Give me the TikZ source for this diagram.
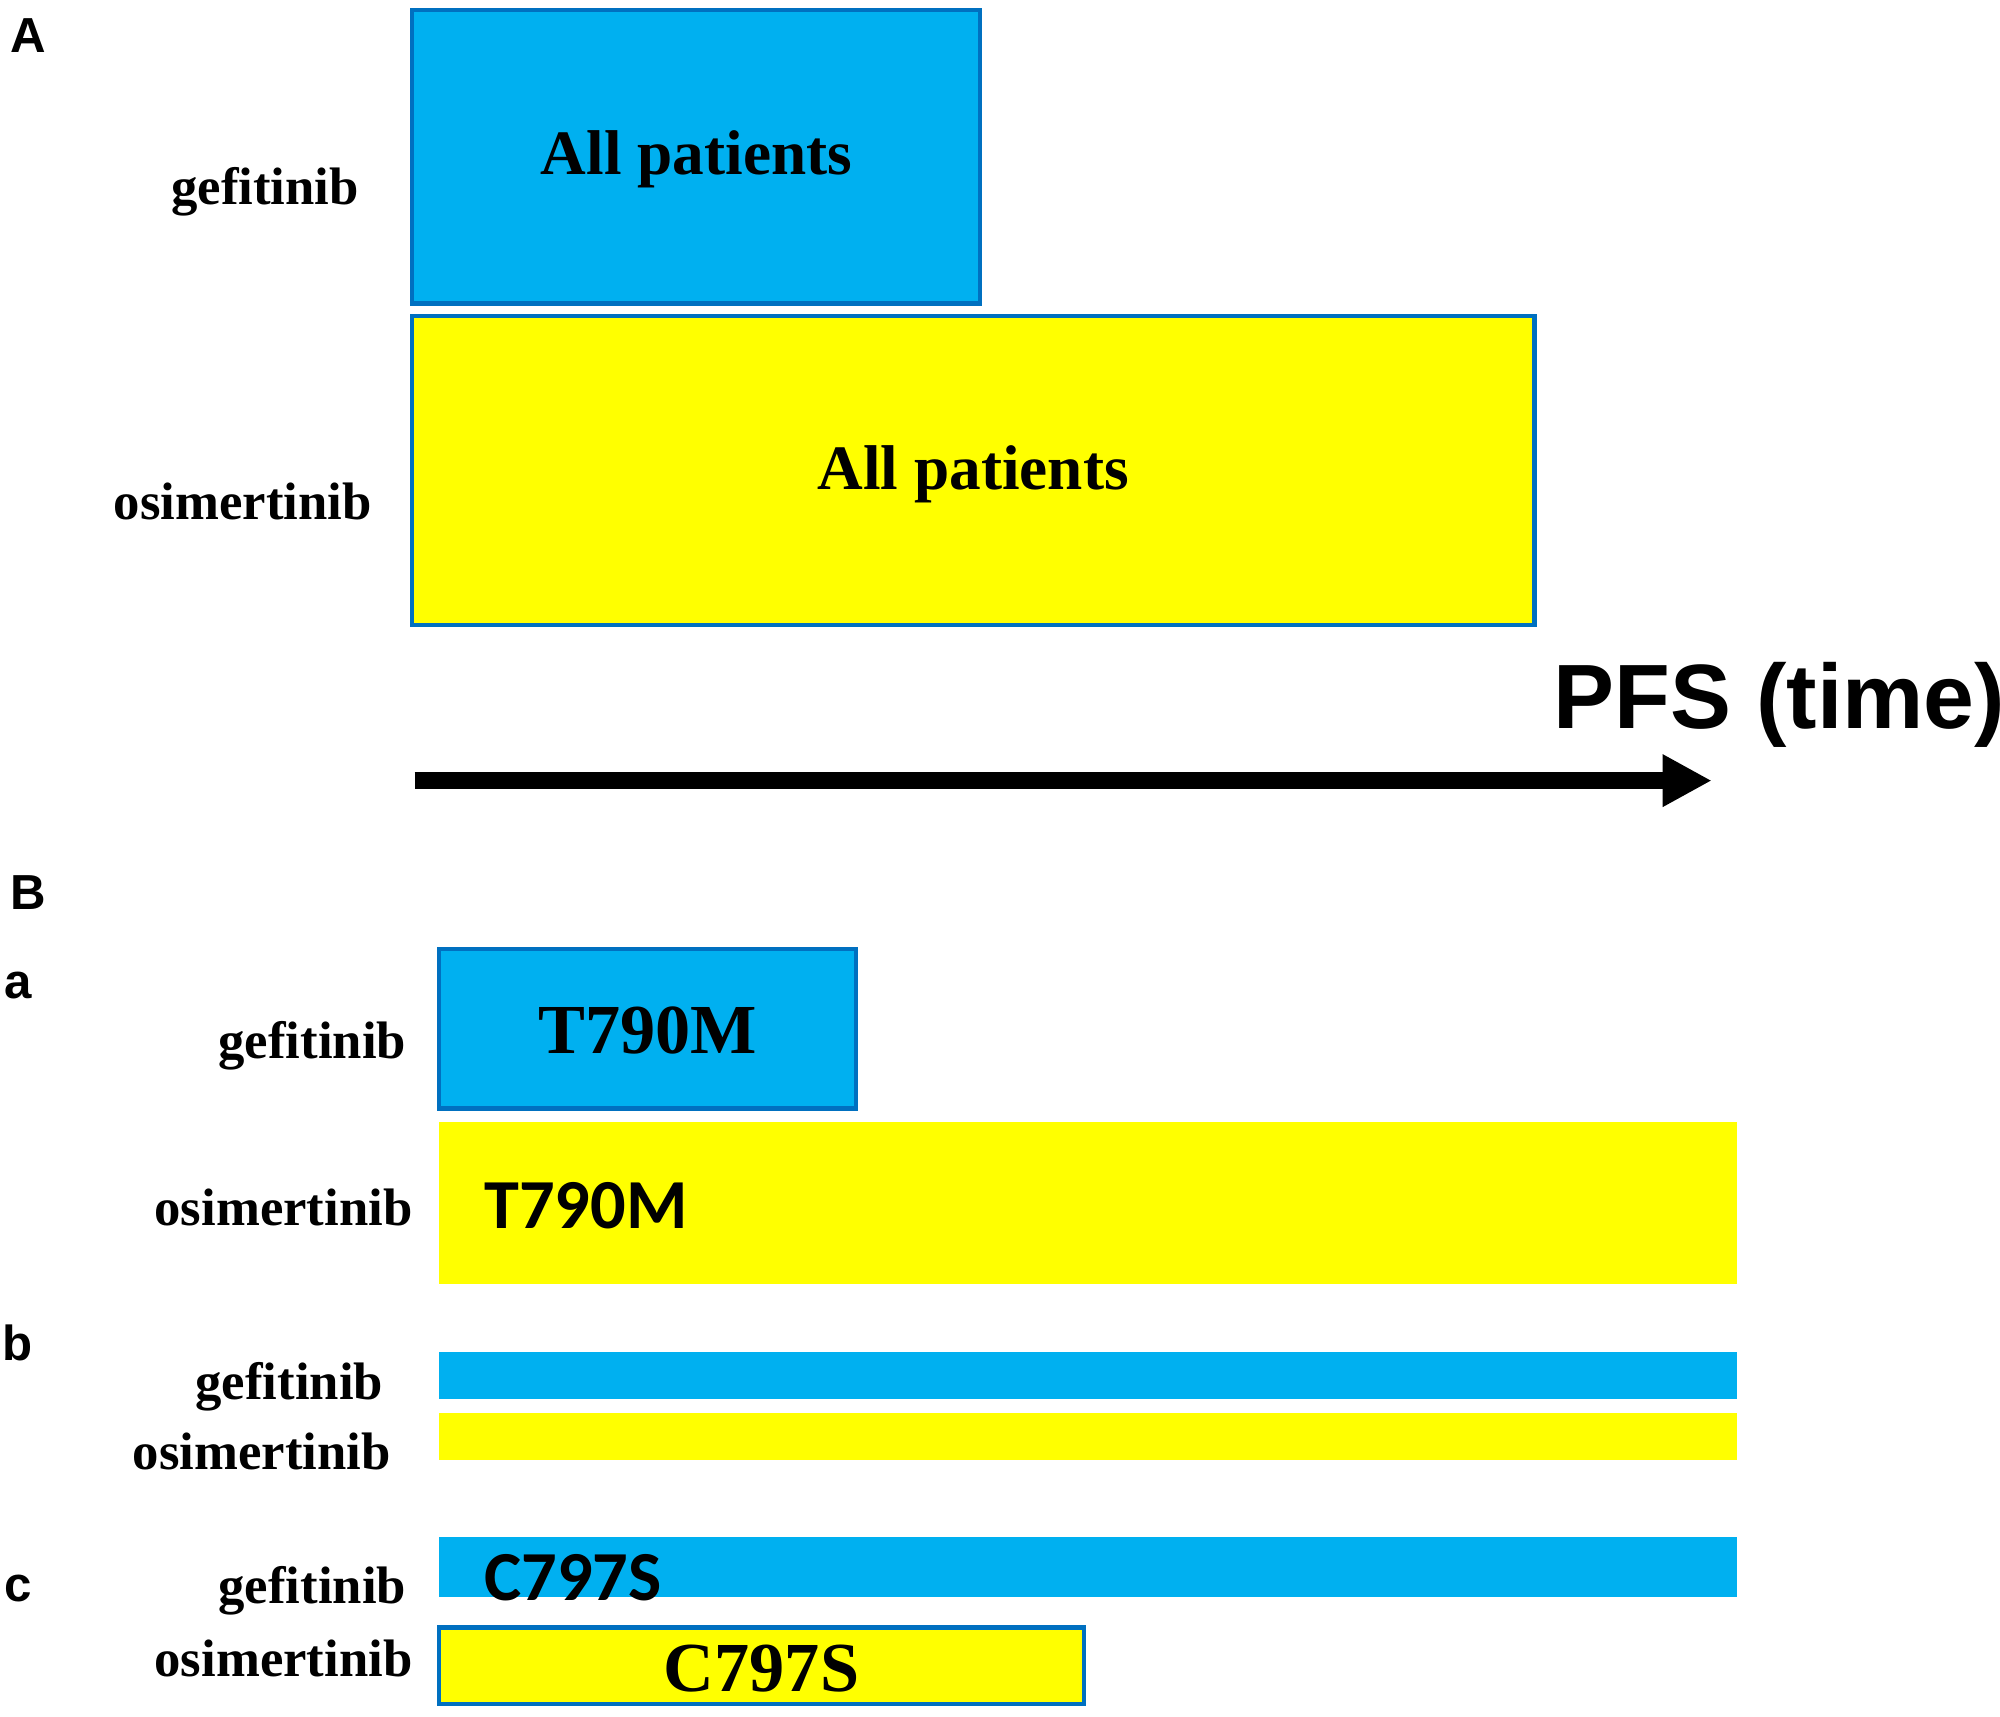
\documentclass[tikz,border=0pt]{standalone}
\usepackage{fontspec}
\setmainfont{Liberation Serif}
\newfontfamily\arialfont{Liberation Sans}
\newfontfamily\calfont{Carlito}
\usetikzlibrary{arrows.meta}
\definecolor{gefblue}{RGB}{0,176,240}
\definecolor{edgeblue}{RGB}{0,112,192}
\definecolor{osiyellow}{RGB}{255,255,0}
\tikzset{
  drug/.style={anchor=east, font=\bfseries\fontsize{15}{18}\selectfont},
  panel/.style={anchor=center, font=\arialfont\bfseries\fontsize{14}{16}\selectfont},
  serifmut/.style={font=\bfseries\fontsize{20}{24}\selectfont},
  sansmut/.style={anchor=west, font=\calfont\bfseries\fontsize{20}{24}\selectfont},
  framed/.style={draw=edgeblue, line width=1.2pt},
}
\begin{document}
\begin{tikzpicture}[x=0.012755cm, y=-0.012755cm]
    \useasboundingbox (0,0) rectangle (1568,1346);

    % panel A
    \node[panel] (labA) at (22,28) {A};
    \fill[gefblue, framed] (323,8) rectangle (768,238);
    \node[serifmut, font=\bfseries\fontsize{18}{22}\selectfont] (allgef) at (546,125) {All patients};
    \node[drug] (gefA) at (291,150) {gefitinib};
    \fill[osiyellow, framed] (323,248) rectangle (1203,490);
    \node[serifmut, font=\bfseries\fontsize{18}{22}\selectfont] (allosi) at (763,372) {All patients};
    \node[drug] (osiA) at (301,393) {osimertinib};

    % time axis
    \node[font=\arialfont\bfseries\fontsize{26}{30}\selectfont] (pfs) at (1395,553) {PFS (time)};
    \coordinate (axstart) at (325,612);
    \coordinate (axend) at (1342,612);
    \draw[line width=5pt, -{Triangle[length=14pt, width=14pt]}] (axstart) -- (axend);

    % panel B
    \node[panel] (labB) at (22,700) {B};
    \node[panel] (laba) at (14,773) {a};
    \fill[gefblue, framed] (344,744) rectangle (671,869);
    \node[serifmut] (tgef) at (508,808) {T790M};
    \node[drug] (gefa) at (328,820) {gefitinib};
    \fill[osiyellow] (344,880) rectangle (1362,1007);
    \node[sansmut] (tosi) at (370,945) {T790M};
    \node[drug] (osia) at (333,947) {osimertinib};

    \node[panel] (labb) at (14,1053) {b};
    \fill[gefblue] (344,1060) rectangle (1362,1097);
    \fill[osiyellow] (344,1108) rectangle (1362,1145);
    \node[drug] (gefb) at (310,1087) {gefitinib};
    \node[drug] (osib) at (316,1138) {osimertinib};

    \node[panel] (labc) at (14,1245) {c};
    \fill[gefblue] (344,1205) rectangle (1362,1252);
    \node[sansmut] (cgef) at (370,1237) {C797S};
    \node[drug] (gefc) at (328,1247) {gefitinib};
    \fill[osiyellow, framed] (344,1276) rectangle (850,1336);
    \node[serifmut] (cosi) at (597,1308) {C797S};
    \node[drug] (osic) at (333,1300) {osimertinib};
\end{tikzpicture}
\end{document}
